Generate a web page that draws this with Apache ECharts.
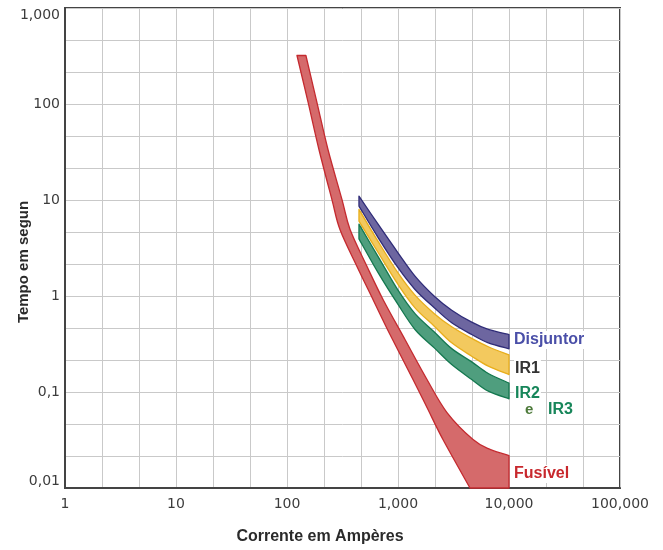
<!DOCTYPE html>
<html>
<head>
<meta charset="utf-8">
<script src="https://cdn.jsdelivr.net/npm/echarts@6/dist/echarts.min.js"></script>
<style>
  html, body { margin: 0; padding: 0; background: #fff; }
  #chart { width: 663px; height: 550px; }
</style>
</head>
<body>
<div id="chart"></div>
<script>
// rótulos dos eixos (escala log, uma década por marca)
const xTickLabels = ['1', '10', '100', '1,000', '10,000', '100,000'];
const yTickLabels = ['0,01', '0,1', '1', '10', '100', '1,000'];

// Fusível: [corrente A, tempo s], de cima para baixo
const fuseLeft = [[123, 320], [155, 104], [194, 33.6], [254, 10.1], [300, 4.93], [427, 2.03], [595, 0.92], [847, 0.397], [1365, 0.135], [1863, 0.0657], [2541, 0.032], [4453, 0.01]];
const fuseRight = [[148, 320], [186, 104], [234, 33.6], [313, 10.1], [370, 4.93], [526, 2.03], [733, 0.92], [1156, 0.352], [1825, 0.135], [2763, 0.0611], [4741, 0.032], [6743, 0.0252], [10000, 0.0218]];
const fuseCorner = [[10000, 0.01]];

// disjuntor e relés: mesma série de correntes, limites de tempo sup./inf.
const bandCurrent = [445, 664, 1000, 1423, 2123, 3047, 4613, 6509, 10000];
const disjTop = [11, 5.56, 2.82, 1.61, 0.996, 0.712, 0.534, 0.448, 0.397];
const disjBottom = [8.63, 4.04, 1.97, 1.17, 0.753, 0.526, 0.397, 0.325, 0.282];
const ir1Top = [8.0, 3.68, 1.74, 1.02, 0.655, 0.478, 0.362, 0.296, 0.244];
const ir1Bottom = [6.02, 2.82, 1.32, 0.753, 0.485, 0.325, 0.236, 0.186, 0.152];
const ir23Top = [5.6, 2.56, 1.15, 0.655, 0.422, 0.283, 0.206, 0.156, 0.124];
const ir23Bottom = [3.94, 1.74, 0.816, 0.448, 0.288, 0.193, 0.135, 0.102, 0.085];

const zip = (xs, ys) => xs.map((x, i) => [x, ys[i]]);

// curva suave (catmull-rom -> bezier) passando pelos pontos em pixel
function spline(pts, first) {
  let d = (first ? 'M' : 'L') + pts[0][0] + ',' + pts[0][1];
  for (let i = 0; i < pts.length - 1; i++) {
    const p0 = pts[i - 1] || pts[i], p1 = pts[i], p2 = pts[i + 1], p3 = pts[i + 2] || p2;
    const c1 = [p1[0] + (p2[0] - p0[0]) / 6, p1[1] + (p2[1] - p0[1]) / 6];
    const c2 = [p2[0] - (p3[0] - p1[0]) / 6, p2[1] - (p3[1] - p1[1]) / 6];
    d += ' C' + c1.join(',') + ' ' + c2.join(',') + ' ' + p2.join(',');
  }
  return d;
}

function band(pieces, fill, stroke) {
  return {
    type: 'custom',
    coordinateSystem: 'cartesian2d',
    data: [[1000, 1]],
    silent: true,
    renderItem: function (params, api) {
      let d = '';
      pieces.forEach(function (piece, k) {
        d += (k ? ' ' : '') + spline(piece.map(p => api.coord(p)), k === 0);
      });
      return {
        type: 'path',
        shape: { pathData: d + ' Z' },
        style: { fill: fill, stroke: stroke, lineWidth: 1.3, lineJoin: 'round' }
      };
    }
  };
}

const chart = echarts.init(document.getElementById('chart'));
const labelFont = { fontFamily: 'DejaVu Sans', fontSize: 14, color: '#3c3c3c' };
const gridLine = { show: true, lineStyle: { color: '#c9c9c9', width: 1 } };

function tag(text, x, y, color, size) {
  return {
    type: 'text', x: x, y: y, z: 100,
    style: {
      text: text, fill: color, font: 'bold ' + (size || 16) + 'px "Liberation Sans", Arial, sans-serif',
      verticalAlign: 'middle', backgroundColor: '#fff', padding: [1, 1]
    }
  };
}

chart.setOption({
  animation: false,
  backgroundColor: '#fff',
  grid: { left: 65, right: 43, top: 8, bottom: 62, show: true, borderColor: '#444', borderWidth: 2 },
  xAxis: [{
    type: 'log', logBase: 10, min: 1, max: 100000,
    axisLine: { lineStyle: { color: '#444', width: 2 } },
    axisTick: { show: false },
    axisLabel: Object.assign({ margin: 9, formatter: v => xTickLabels[Math.round(Math.log10(v))] }, labelFont),
    splitLine: { show: false }
  }, {
    type: 'value', min: 0, max: 15, interval: 1,
    axisLine: { show: false }, axisTick: { show: false }, axisLabel: { show: false },
    splitLine: gridLine
  }],
  yAxis: [{
    type: 'log', logBase: 10, min: 0.01, max: 1000,
    axisLine: { lineStyle: { color: '#444', width: 2 } },
    axisTick: { show: false },
    axisLabel: Object.assign({
      margin: 5, verticalAlignMinLabel: 'bottom', verticalAlignMaxLabel: 'top',
      formatter: v => yTickLabels[Math.round(Math.log10(v)) + 2]
    }, labelFont),
    splitLine: { show: false }
  }, {
    type: 'value', min: 0, max: 15, interval: 1,
    axisLine: { show: false }, axisTick: { show: false }, axisLabel: { show: false },
    splitLine: gridLine
  }],
  graphic: [
    {
      type: 'text', x: 320, y: 537,
      style: { text: 'Corrente em Ampères', fill: '#2a2a2a', font: 'bold 16px "Liberation Sans", Arial, sans-serif', align: 'center', verticalAlign: 'middle' }
    },
    {
      type: 'text', x: 24, y: 262, rotation: Math.PI / 2,
      style: { text: 'Tempo em segun', fill: '#2a2a2a', font: 'bold 15px "Liberation Sans", Arial, sans-serif', align: 'center', verticalAlign: 'middle' }
    },
    tag('Disjuntor', 513, 340, '#4a4fa8'),
    tag('IR1', 514, 369, '#333333'),
    tag('IR2', 514, 394, '#17865a'),
    tag('e', 524, 410, '#4d7a3a', 15),
    tag('IR3', 547, 410, '#17865a'),
    tag('Fusível', 513, 474, '#c8282d')
  ],
  series: [
    band([fuseRight, fuseCorner, fuseLeft.slice().reverse()], '#d56a6b', '#c42a2f'),
    band([zip(bandCurrent, disjTop), zip(bandCurrent, disjBottom).reverse()], '#6d66a0', '#2f2c78'),
    band([zip(bandCurrent, ir1Top), zip(bandCurrent, ir1Bottom).reverse()], '#f3c95e', '#e8ae1c'),
    band([zip(bandCurrent, ir23Top), zip(bandCurrent, ir23Bottom).reverse()], '#4f9e7e', '#14784f')
  ]
});
</script>
</body>
</html>
